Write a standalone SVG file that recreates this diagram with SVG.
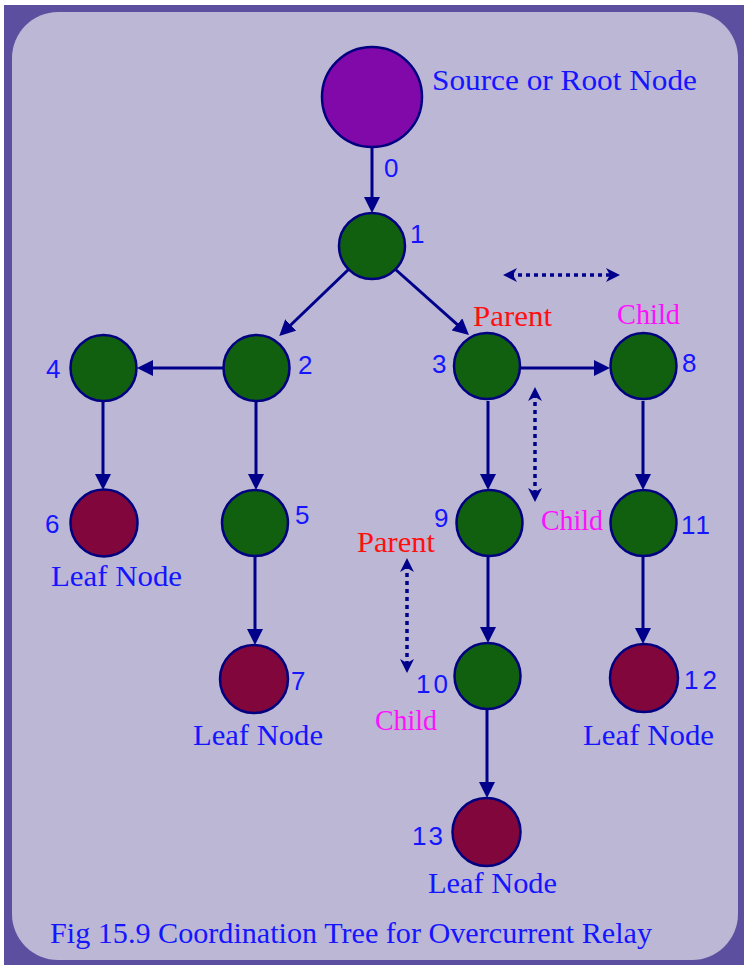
<svg xmlns="http://www.w3.org/2000/svg" width="744" height="965" viewBox="0 0 744 965">
<defs>
<style>
.node{stroke:#000080;stroke-width:2.5}
.inner{fill:#10600f}
.leaf{fill:#80063b}
.root{fill:#8209a9}
.num{font-family:"Liberation Sans",Arial,sans-serif;font-size:26px;fill:#1515ff}
.lbl{font-family:"Liberation Serif","Times New Roman",serif;font-size:30px;fill:#1515ff}
.par{font-family:"Liberation Serif","Times New Roman",serif;font-size:30px;fill:#ff1010}
.chd{font-family:"Liberation Serif","Times New Roman",serif;font-size:30px;fill:#ff10ff}
.edge{stroke:#00008b;stroke-width:3;fill:none;marker-end:url(#ah)}
.dot{stroke:#00008b;stroke-width:3.5;fill:none;stroke-dasharray:4 4;marker-start:url(#dh);marker-end:url(#dh)}
</style>
<marker id="ah" viewBox="0 0 16 16" refX="8" refY="8" markerWidth="16" markerHeight="16" markerUnits="userSpaceOnUse" orient="auto">
<path d="M0,0 L16,8 L0,16 z" fill="#00008b"/>
</marker>
<marker id="dh" viewBox="0 0 14 14" refX="7" refY="7" markerWidth="14" markerHeight="14" markerUnits="userSpaceOnUse" orient="auto-start-reverse">
<path d="M0,0 L14,7 L0,14 L4,7 z" fill="#00008b"/>
</marker>
</defs>
<rect x="4" y="5" width="740" height="960" fill="#5c4fa0"/>
<rect x="12" y="12" width="726" height="948" rx="46" ry="46" fill="#bbb7d4"/>

<g id="connectors">
<line class="edge" x1="372" y1="148" x2="372" y2="205"/>
<line class="edge" x1="349" y1="269" x2="285" y2="330.5"/>
<line class="edge" x1="395" y1="269" x2="463" y2="329.7"/>
<line class="edge" x1="223" y1="368" x2="145" y2="368"/>
<line class="edge" x1="103" y1="401" x2="103" y2="482"/>
<line class="edge" x1="256" y1="401" x2="256" y2="482"/>
<line class="edge" x1="255" y1="556" x2="255" y2="637"/>
<line class="edge" x1="520" y1="368" x2="602" y2="368"/>
<line class="edge" x1="488" y1="401" x2="488" y2="482"/>
<line class="edge" x1="643" y1="401" x2="643" y2="482"/>
<line class="edge" x1="488" y1="556" x2="488" y2="635"/>
<line class="edge" x1="643" y1="556" x2="643" y2="636"/>
<line class="edge" x1="487" y1="709" x2="487" y2="790"/>
<line class="dot" x1="510" y1="275" x2="613" y2="275"/>
<line class="dot" x1="535" y1="394" x2="535" y2="495"/>
<line class="dot" x1="407" y1="565" x2="407" y2="666"/>
</g>

<g id="n0"><circle class="node root" cx="372" cy="97" r="50"/><text class="lbl" x="432" y="90" textLength="265" lengthAdjust="spacingAndGlyphs">Source or Root Node</text><text class="num" x="384" y="177">0</text></g>
<g id="n1"><circle class="node inner" cx="372" cy="246" r="33"/><text class="num" x="410" y="243">1</text></g>
<g id="n2"><circle class="node inner" cx="256.5" cy="368" r="33"/><text class="num" x="298" y="374">2</text></g>
<g id="n3"><circle class="node inner" cx="487" cy="366" r="33"/><text class="num" x="432" y="373">3</text><text class="par" x="473" y="326" textLength="79" lengthAdjust="spacingAndGlyphs">Parent</text></g>
<g id="n4"><circle class="node inner" cx="103.5" cy="368" r="33"/><text class="num" x="46" y="378">4</text></g>
<g id="n8"><circle class="node inner" cx="643.5" cy="366" r="33"/><text class="num" x="682" y="372">8</text><text class="chd" x="617" y="324" textLength="63" lengthAdjust="spacingAndGlyphs">Child</text></g>
<g id="n6"><circle class="node leaf" cx="104" cy="523" r="33.5"/><text class="num" x="45" y="533">6</text><text class="lbl" x="51" y="586" textLength="131" lengthAdjust="spacingAndGlyphs">Leaf Node</text></g>
<g id="n5"><circle class="node inner" cx="255" cy="523" r="33"/><text class="num" x="295" y="524">5</text></g>
<g id="n9"><circle class="node inner" cx="489.5" cy="523" r="33"/><text class="num" x="434" y="527">9</text><text class="chd" x="541" y="530" textLength="62" lengthAdjust="spacingAndGlyphs">Child</text><text class="par" x="357" y="552" textLength="78" lengthAdjust="spacingAndGlyphs">Parent</text></g>
<g id="n11"><circle class="node inner" cx="643.5" cy="523" r="33"/><text class="num" x="681" y="534" textLength="29" lengthAdjust="spacing">11</text></g>
<g id="n7"><circle class="node leaf" cx="254" cy="679" r="34"/><text class="num" x="291" y="690">7</text><text class="lbl" x="193" y="745" textLength="130" lengthAdjust="spacingAndGlyphs">Leaf Node</text></g>
<g id="n10"><circle class="node inner" cx="487.5" cy="676" r="33"/><text class="num" x="416" y="693" textLength="32" lengthAdjust="spacing">10</text><text class="chd" x="375" y="730" textLength="62" lengthAdjust="spacingAndGlyphs">Child</text></g>
<g id="n12"><circle class="node leaf" cx="644" cy="678" r="34"/><text class="num" x="684" y="689" textLength="33" lengthAdjust="spacing">12</text><text class="lbl" x="583" y="745" textLength="131" lengthAdjust="spacingAndGlyphs">Leaf Node</text></g>
<g id="n13"><circle class="node leaf" cx="486.5" cy="832" r="34"/><text class="num" x="412" y="845" textLength="31" lengthAdjust="spacing">13</text><text class="lbl" x="428" y="893" textLength="129" lengthAdjust="spacingAndGlyphs">Leaf Node</text></g>

<text class="lbl" x="50" y="943" textLength="602" lengthAdjust="spacingAndGlyphs">Fig 15.9 Coordination Tree for Overcurrent Relay</text>
</svg>
